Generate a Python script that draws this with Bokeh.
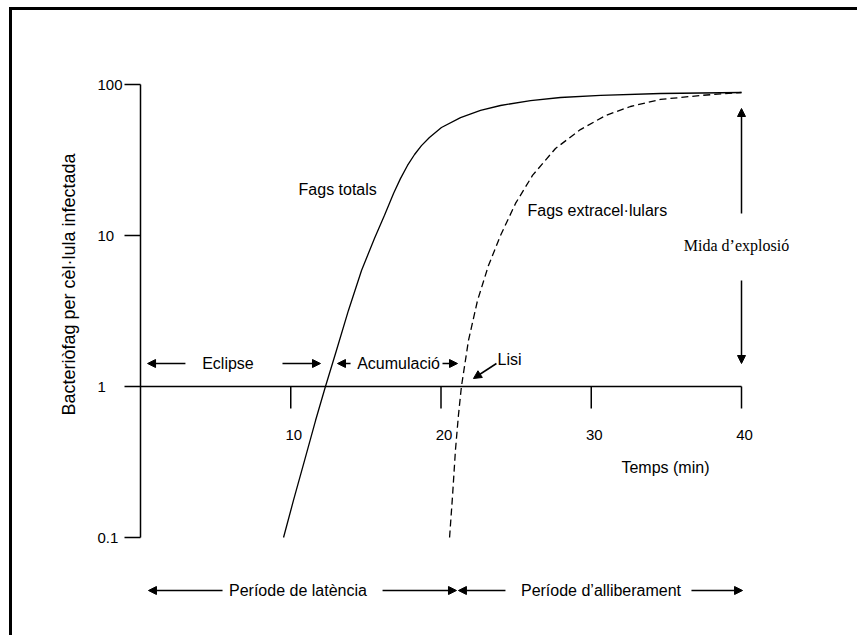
import math
from bokeh.plotting import figure
from bokeh.models import Range1d, FixedTicker, Arrow, NormalHead
from bokeh.core.properties import value
from bokeh.embed import file_html
from bokeh.resources import INLINE

# ---------------- data ----------------
total_x = [9.52, 10.18, 10.92, 11.65, 12.31, 13.04, 13.84, 14.71, 15.57, 16.24, 16.84, 17.30,
           17.77, 18.24, 18.70, 19.23, 20.03, 21.30, 22.63, 23.96, 25.96, 27.95, 30.62, 34.61, 40.0]
total_y = [0.10, 0.176, 0.324, 0.595, 1.0, 1.73, 3.19, 5.87, 9.55, 13.6, 19.0, 23.8,
           29.1, 34.4, 39.4, 44.6, 51.9, 60.4, 67.3, 72.6, 78.3, 82.0, 84.6, 87.2, 88.5]
extra_x = [20.57, 20.77, 20.96, 21.16, 21.36, 21.83, 22.43, 23.16, 23.96, 24.96, 26.09,
           27.62, 29.28, 30.95, 32.61, 34.61, 37.27, 40.0]
extra_y = [0.10, 0.19, 0.377, 0.643, 1.0, 2.02, 3.71, 6.33, 10.0, 16.3, 25.0,
           37.7, 50.3, 62.3, 71.5, 79.6, 84.6, 88.5]

x_ticks = [10, 20, 30, 40]
x_tick_labels = ["10", "20", "30", "40"]
y_ticks = [0.1, 1, 10, 100]
y_tick_labels = ["0.1", "1", "10", "100"]

x_axis_end = 40
burst_at = 40

# ---------------- layout ----------------
W, H = 848, 628
LEFT = 40               # side panel width (frame starts here)
ZERO_PX = 88            # frame pixel of x = 0
PX_MIN = 15.025         # pixels per minute
PX_DEC = 151.0          # pixels per decade
TOP_100 = 74            # canvas pixel row of y = 100

x_start = -ZERO_PX / PX_MIN
x_end = x_start + (W - LEFT) / PX_MIN
y_end = 10 ** (2 + TOP_100 / PX_DEC)
y_start = 10 ** (2 - (H - TOP_100) / PX_DEC)

def ydown(base, px):
    return base * 10 ** (-px / PX_DEC)

def xshift(base, px):
    return base + px / PX_MIN

FONT = value("Liberation Sans")
SERIF = value("Liberation Serif")

p = figure(width=W, height=H, x_range=Range1d(x_start, x_end), y_range=Range1d(y_start, y_end),
           y_axis_type="log", x_axis_location=None, output_backend="svg",
           toolbar_location=None, min_border_left=LEFT, min_border_right=0,
           min_border_top=0, min_border_bottom=0)
p.styles = {"border-top": "3px solid black", "border-left": "3px solid black",
            "margin-top": "7px", "margin-left": "9px"}
p.outline_line_color = None
p.grid.visible = False
p.background_fill_color = "white"
p.border_fill_color = "white"

ax = p.yaxis[0]
ax.fixed_location = 0
ax.ticker = FixedTicker(ticks=y_ticks, minor_ticks=[])
ax.major_label_overrides = {t: "" for t in y_ticks}
ax.major_label_text_font_size = "0px"
ax.major_label_standoff = 0
ax.bounds = (min(y_ticks), max(y_ticks))
ax.axis_line_color = "black"
ax.axis_line_width = 1.5
ax.major_tick_line_color = "black"
ax.major_tick_line_width = 1.5
ax.major_tick_out = 16
ax.major_tick_in = 0
ax.minor_tick_out = 0
ax.minor_tick_in = 0

# y tick labels and title
p.text(x=[xshift(0, -43)] * len(y_ticks), y=y_ticks, text=y_tick_labels, text_font=FONT,
       text_font_size="15px", text_align="left", text_baseline="middle", text_color="black")
p.text(x=[xshift(0, -72)], y=[ydown(1, -102)], text=["Bacteriòfag per cèl·lula infectada"],
       angle=math.pi / 2, text_font=FONT, text_font_size="18px", text_align="center",
       text_baseline="middle", text_color="black")

# horizontal axis drawn at y = 1
p.segment(x0=[0], y0=[1], x1=[x_axis_end], y1=[1], line_color="black", line_width=1.5)
p.segment(x0=x_ticks, y0=[1] * len(x_ticks), x1=x_ticks, y1=[ydown(1, 22)] * len(x_ticks),
          line_color="black", line_width=1.5)
p.text(x=[xshift(t, 3) for t in x_ticks], y=[ydown(1, 48)] * len(x_ticks), text=x_tick_labels,
       text_font=FONT, text_font_size="15px", text_align="center", text_baseline="middle",
       text_color="black")
p.text(x=[34.94], y=[ydown(1, 81)], text=["Temps (min)"], text_font=FONT,
       text_font_size="16px", text_align="center", text_baseline="middle", text_color="black")

# curves
p.line(total_x, total_y, line_color="black", line_width=1.3)
p.line(extra_x, extra_y, line_color="black", line_width=1.3, line_dash="7 4")

def arrow(x0, y0, x1, y1):
    p.add_layout(Arrow(end=NormalHead(size=8, fill_color="black", line_color="black", line_width=1),
                       x_start=x0, y_start=y0, x_end=x1, y_end=y1,
                       line_color="black", line_width=1.5))

y_ecl = ydown(1, -23)
arrow(2.99, y_ecl, 0.47, y_ecl)
arrow(9.45, y_ecl, 11.98, y_ecl)
arrow(13.98, y_ecl, 13.11, y_ecl)
arrow(20.10, y_ecl, 21.10, y_ecl)
arrow(23.69, y_ecl, 22.16, ydown(1, -8))

p.text(x=[5.82, 17.17], y=[y_ecl, y_ecl], text=["Eclipse", "Acumulació"], text_font=FONT,
       text_font_size="16px", text_align="center", text_baseline="middle", text_color="black")
p.text(x=[23.76, 10.52, 25.76], y=[ydown(1, -27), ydown(1, -197), ydown(1, -176)],
       text=["Lisi", "Fags totals", "Fags extracel·lulars"], text_font=FONT,
       text_font_size="16px", text_align="left", text_baseline="middle", text_color="black")

# burst size
arrow(burst_at, ydown(1, -173), burst_at, ydown(1, -278))
arrow(burst_at, ydown(1, -106), burst_at, ydown(1, -23))
p.text(x=[xshift(burst_at, -5)], y=[ydown(1, -141)], text=["Mida d’explosió"], text_font=SERIF,
       text_font_size="16px", text_align="center", text_baseline="middle", text_color="black")

# periods
y_per = ydown(1, 204)
arrow(5.46, y_per, 0.53, y_per)
arrow(16.11, y_per, 21.03, y_per)
arrow(24.29, y_per, 21.16, y_per)
arrow(36.67, y_per, 40.07, y_per)
p.text(x=[10.48, 30.65], y=[y_per, y_per], text=["Període de latència", "Període d’alliberament"],
       text_font=FONT, text_font_size="16px", text_align="center", text_baseline="middle",
       text_color="black")

open("out.html", "w").write(file_html(p, INLINE))
